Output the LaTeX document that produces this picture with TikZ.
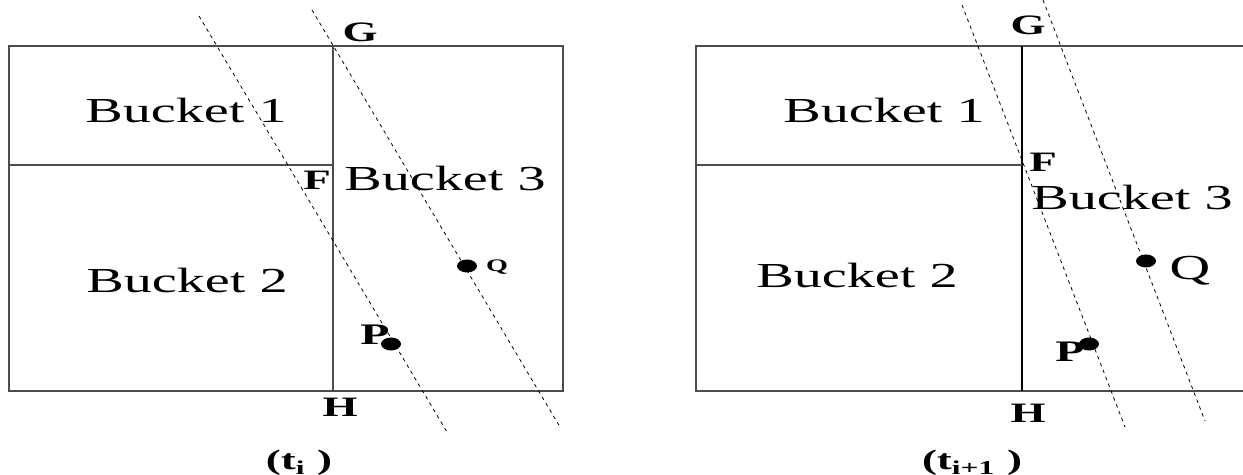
\documentclass[tikz,border=0pt]{standalone}
\usepackage{fontspec}
\setmainfont{Liberation Serif}
\usetikzlibrary{shapes.geometric}

\begin{document}
\begin{tikzpicture}[x=0.02cm, y=-0.02cm,
    box/.style={draw=black!70, line width=0.6pt},
    cut/.style={dash pattern=on 2pt off 2.2pt, line width=0.45pt},
    bucket/.style={font=\fontsize{20}{24}\selectfont, xscale=1.6, inner sep=0pt},
    pt/.style={font=\bfseries\fontsize{16}{19}\selectfont, xscale=1.6, inner sep=0pt},
    dot/.style={ellipse, fill, inner sep=0pt, minimum width=0.4cm, minimum height=0.26cm}]
        \useasboundingbox (0,0) rectangle (1243,475);

        % left: t_i
        \coordinate (a1) at (9,46);
        \coordinate (c1) at (563,391);
        \coordinate (g1) at (333,46);
        \coordinate (h1) at (333,391);
        \coordinate (e1) at (9,165);
        \coordinate (f1) at (333,165);
        \draw[box] (a1) rectangle (c1);
        \draw[box] (g1) -- (h1);
        \draw[box] (e1) -- (f1);

        \node[bucket] (b11) at (186,110) {Bucket 1};
        \node[bucket] (b12) at (187,280) {Bucket 2};
        \node[bucket] (b13) at (445,178) {Bucket 3};
        \node[pt] (lg1) at (360,32) {G};
        \node[pt] (lf1) at (317,180) {F};
        \node[pt] (lh1) at (340,407) {H};
        \node[pt, font=\bfseries\fontsize{17}{20}\selectfont] (lp1) at (375,335) {P};
        \node[pt, font=\bfseries\fontsize{10}{12}\selectfont] (lq1) at (497,267) {Q};

        \coordinate (m1) at (199,16);
        \coordinate (n1) at (447,432);
        \coordinate (u1) at (312,10);
        \coordinate (v1) at (560,427);
        \draw[cut] (m1) -- (n1);
        \draw[cut] (u1) -- (v1);
        \node[dot] (p1) at (391,344) {};
        \node[dot] (q1) at (467,266) {};

        \node[pt, font=\bfseries\fontsize{16}{19}\selectfont] (t1) at (299,463) {(t\textsubscript{i}\ )};

        % right: t_{i+1}
        \coordinate (a2) at (696,46);
        \coordinate (r2) at (1243,46);
        \coordinate (d2) at (696,391);
        \coordinate (s2) at (1243,391);
        \coordinate (g2) at (1022,46);
        \coordinate (h2) at (1022,391);
        \coordinate (e2) at (696,165);
        \coordinate (f2) at (1022,165);
        \draw[box] (r2) -- (a2) -- (d2) -- (s2);
        \draw[line width=0.6pt] (g2) -- (h2);
        \draw[box] (e2) -- (f2);

        \node[bucket] (b21) at (884,110) {Bucket 1};
        \node[bucket] (b22) at (857,275) {Bucket 2};
        \node[bucket] (b23) at (1132,197) {Bucket 3};
        \node[pt] (lg2) at (1028,25) {G};
        \node[pt] (lf2) at (1043,162) {F};
        \node[pt] (lh2) at (1028,413) {H};
        \node[pt, font=\bfseries\fontsize{17}{20}\selectfont] (lp2) at (1070,352) {P};
        \node[pt, font=\fontsize{20}{24}\selectfont] (lq2) at (1190,271) {Q};

        \coordinate (m2) at (962,5);
        \coordinate (n2) at (1125,427);
        \coordinate (u2) at (1043,0);
        \coordinate (v2) at (1205,421);
        \draw[cut] (m2) -- (n2);
        \draw[cut] (u2) -- (v2);
        \node[dot] (p2) at (1089,344) {};
        \node[dot] (q2) at (1146,261) {};

        \node[pt, font=\bfseries\fontsize{16}{19}\selectfont] (t2) at (972,463) {(t\textsubscript{i+1}\ )};
\end{tikzpicture}
\end{document}
